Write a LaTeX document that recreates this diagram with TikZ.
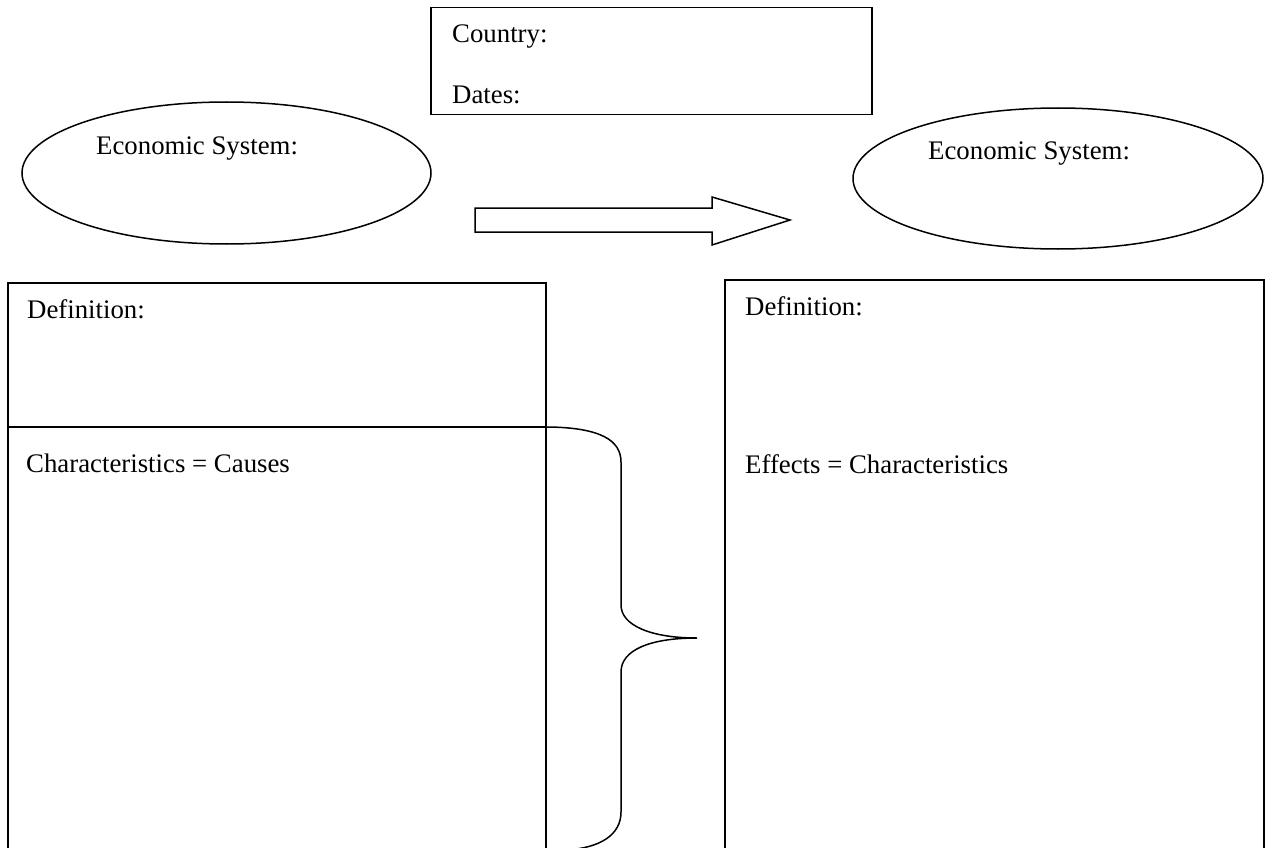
\documentclass[tikz,border=0pt]{standalone}
\usepackage{fontspec}
\setmainfont{Liberation Serif}
\usetikzlibrary{shapes.geometric}
\begin{document}
\begin{tikzpicture}[x=1pt,y=-1pt,
  line/.style={line width=1.5pt,black},
  lbl/.style={anchor=base west,inner sep=0pt,font=\fontsize{26.8}{32}\selectfont},
  oval/.style={line,draw,ellipse,inner sep=0pt},
  panel/.style={line,draw,rectangle,inner sep=0pt,anchor=north west}]
\useasboundingbox (0,0) rectangle (1269,848);
\clip (0,0) rectangle (1269,848);
% top box
\node[panel,minimum width=441pt,minimum height=107pt] (top) at (430,7) {};
\node[lbl] (country) at (452,43) {Country:};
\node[lbl] (dates) at (452,104) {Dates:};
% ellipses
\node[oval,minimum width=409pt,minimum height=142pt] (eL) at (226.5,173) {};
\node[lbl] (eLt) at (96,155) {Economic System:};
\node[oval,minimum width=410pt,minimum height=141pt] (eR) at (1058,178.5) {};
\node[lbl] (eRt) at (928,160) {Economic System:};
% block arrow
\draw[line,line join=miter] (475,208) -- (712,208) -- (712,197) -- (790,220) -- (712,245) -- (712,232) -- (475,232) -- cycle;
% left panel
\node[panel,minimum width=538pt,minimum height=600pt] (boxL) at (7,282) {};
\coordinate (divL) at (7,427);
\coordinate (divR) at (545,427);
\draw[line] (divL) -- (divR);
\node[lbl] (defL) at (27,318) {Definition:};
\node[lbl] (charL) at (26,472) {Characteristics = Causes};
% right panel
\node[panel,minimum width=539pt,minimum height=600pt] (boxR) at (724,279) {};
\node[lbl] (defR) at (745,315) {Definition:};
\node[lbl] (effR) at (745,473) {Effects = Characteristics};
% brace
\coordinate (tip) at (697,638);
\coordinate (bend) at (566,850);
\draw[line] (divR) -- (550,427) .. controls (600,428) and (621,440) .. (621,462)
  -- (621,605) .. controls (621,625) and (650,638) .. (tip)
  .. controls (650,638) and (621,650) .. (621,672)
  -- (621,812) .. controls (621,835) and (600,848) .. (bend);
\end{tikzpicture}
\end{document}
